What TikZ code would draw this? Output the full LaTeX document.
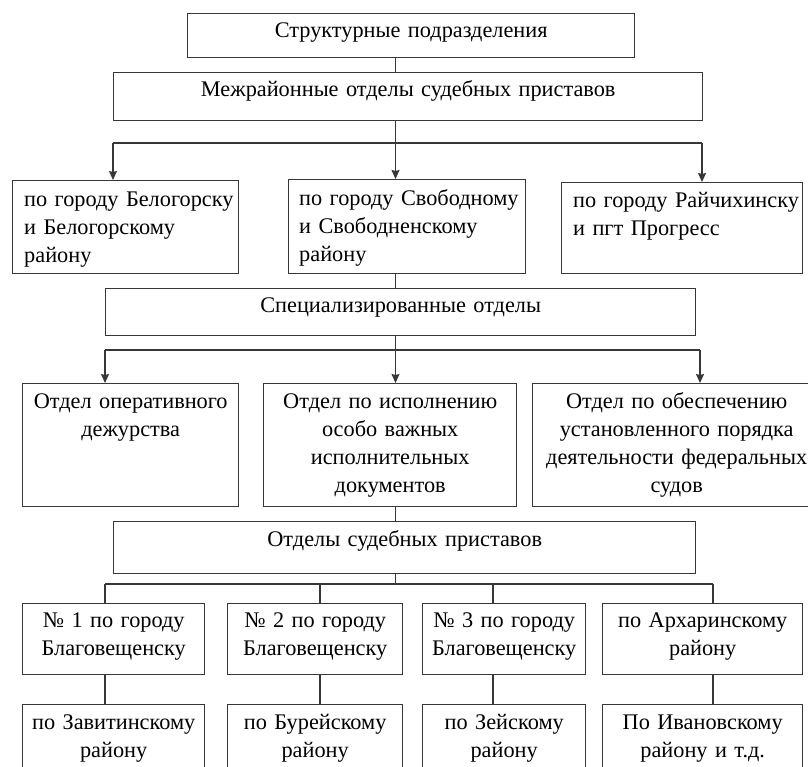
\documentclass[tikz,border=0pt]{standalone}
\usepackage{fontspec}
\setmainfont{Liberation Serif}
\usepackage{tikz}
\usetikzlibrary{arrows.meta,positioning}
\usepackage{xcolor}
\definecolor{lngray}{RGB}{55,55,55}
\tikzstyle{box} = [draw=lngray, line width=1.4pt, inner sep=0pt, anchor=north west]
\tikzstyle{lbl} = [inner sep=0pt, align=center, font=\fontsize{22.3}{28}\selectfont]
\tikzstyle{lbll} = [lbl, align=left]
\tikzstyle{link} = [draw=lngray, line width=1.3pt]
\tikzstyle{arrow} = [link, -{Stealth[length=9pt,width=8pt,inset=1pt]}]

\begin{document}
\begin{tikzpicture}[x=1pt, y=-1pt]
\path[use as bounding box, clip] (0,0) rectangle (808,766);

% Boxes
\node[box, minimum width=447pt, minimum height=44pt] (struct) at (187,13) {};
\node[box, minimum width=589pt, minimum height=48pt] (mezh) at (113,72) {};

\node[box, minimum width=226pt, minimum height=93pt] (belog) at (12,180) {};
\node[box, minimum width=237pt, minimum height=94pt] (svob) at (288,179) {};
\node[box, minimum width=241pt, minimum height=91pt] (raich) at (561,182) {};

\node[box, minimum width=590pt, minimum height=47pt] (spec) at (105,288) {};

\node[box, minimum width=216pt, minimum height=123pt] (oper) at (22,383) {};
\node[box, minimum width=253pt, minimum height=123pt] (isp) at (263,383) {};
\node[box, minimum width=288pt, minimum height=123pt] (fed) at (532,383) {};

\node[box, minimum width=582pt, minimum height=52pt] (otd) at (113,521) {};

\node[box, minimum width=182pt, minimum height=71pt] (n1) at (22,603) {};
\node[box, minimum width=175pt, minimum height=71pt] (n2) at (227,603) {};
\node[box, minimum width=163pt, minimum height=71pt] (n3) at (422,603) {};
\node[box, minimum width=200pt, minimum height=71pt] (n4) at (602,603) {};

\node[box, minimum width=182pt, minimum height=80pt] (z1) at (22,704) {};
\node[box, minimum width=175pt, minimum height=80pt] (z2) at (227,704) {};
\node[box, minimum width=163pt, minimum height=80pt] (z3) at (422,704) {};
\node[box, minimum width=200pt, minimum height=80pt] (z4) at (602,704) {};

% Texts
\node[lbl, text width=447pt, below=24pt of struct.north, anchor=base] {Структурные подразделения};
\node[lbl, text width=589pt, below=24.5pt of mezh.north, anchor=base] {Межрайонные отделы судебных приставов};

\node[lbll, text width=215pt, below right=26pt and 12pt of belog.north west, anchor=base west] {по городу Белогорску\\и Белогорскому\\району};
\node[lbll, text width=226pt, below right=26pt and 11pt of svob.north west, anchor=base west] {по городу Свободному\\и Свободненскому\\району};
\node[lbll, text width=230pt, below right=25pt and 12pt of raich.north west, anchor=base west] {по городу Райчихинску\\и пгт Прогресс};

\node[lbl, text width=590pt, below=24.5pt of spec.north, anchor=base] {Специализированные отделы};

\node[lbl, text width=216pt, below=25pt of oper.north, anchor=base] {Отдел оперативного\\дежурства};
\node[lbl, text width=253pt, below=25pt of isp.north, anchor=base] {Отдел по исполнению\\особо важных\\исполнительных\\документов};
\node[lbl, text width=288pt, below=25pt of fed.north, anchor=base] {Отдел по обеспечению\\установленного порядка\\деятельности федеральных\\судов};

\node[lbl, text width=582pt, below=25pt of otd.north, anchor=base] {Отделы судебных приставов};

\node[lbl, text width=182pt, below=24pt of n1.north, anchor=base] {№ 1 по городу\\Благовещенску};
\node[lbl, text width=175pt, below=24pt of n2.north, anchor=base] {№ 2 по городу\\Благовещенску};
\node[lbl, text width=163pt, below=24pt of n3.north, anchor=base] {№ 3 по городу\\Благовещенску};
\node[lbl, text width=200pt, below=24pt of n4.north, anchor=base] {по Архаринскому\\району};

\node[lbl, text width=182pt, below=25pt of z1.north, anchor=base] {по Завитинскому\\району};
\node[lbl, text width=175pt, below=25pt of z2.north, anchor=base] {по Бурейскому\\району};
\node[lbl, text width=163pt, below=25pt of z3.north, anchor=base] {по Зейскому\\району};
\node[lbl, text width=200pt, below=25pt of z4.north, anchor=base] {По Ивановскому\\району и т.д.};

% Connectors
\coordinate (spine) at (395.5,0);
\coordinate (bra) at (395.5,143);
\coordinate (braL) at (113,143);
\coordinate (braR) at (702,143);
\coordinate (brb) at (395.5,350);
\coordinate (brbL) at (105,350);
\coordinate (brbR) at (700,350);
\coordinate (brc) at (395.5,584);

\draw[link] (struct.south -| spine) -- (mezh.north -| spine);
\draw[link] (mezh.south -| spine) -- (bra);
\draw[link] (braL) -- (braR);
\draw[arrow] (braL) -- (braL |- belog.north);
\draw[arrow] (bra) -- (bra |- svob.north);
\draw[arrow] (braR) -- (braR |- raich.north);

\draw[link] (svob.south -| spine) -- (spec.north -| spine);
\draw[link] (spec.south -| spine) -- (brb);
\draw[link] (brbL) -- (brbR);
\draw[arrow] (brbL) -- (brbL |- oper.north);
\draw[arrow] (brb) -- (brb |- isp.north);
\draw[arrow] (brbR) -- (brbR |- fed.north);

\draw[link] (isp.south -| spine) -- (otd.north -| spine);
\draw[link] (otd.south -| spine) -- (brc);
\draw[link] (105,584) -- (713,584);
\foreach \x/\a/\b in {105/n1/z1, 320/n2/z2, 493/n3/z3, 713/n4/z4} {
  \draw[link] (\x,584) -- (\x,0 |- \a.north);
  \draw[link] (\x,0 |- \a.south) -- (\x,0 |- \b.north);
}
\end{tikzpicture}
\end{document}
